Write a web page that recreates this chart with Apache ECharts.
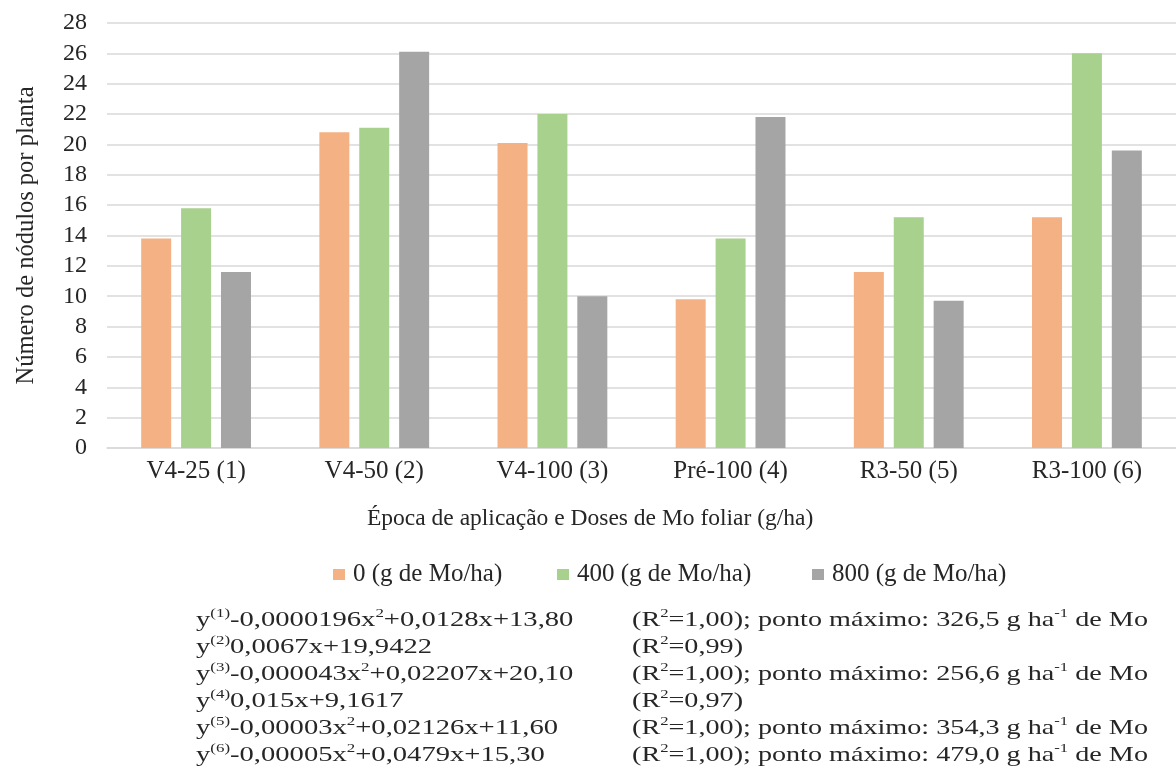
<!DOCTYPE html>
<html><head><meta charset="utf-8">
<script src="https://cdn.jsdelivr.net/npm/echarts@6/dist/echarts.min.js"></script>
<style>html,body{margin:0;padding:0;background:#fff}#c{width:1176px;height:774px}</style>
</head><body><div id="c"></div>
<script>
const categories = ['V4-25 (1)', 'V4-50 (2)', 'V4-100 (3)', 'Pré-100 (4)', 'R3-50 (5)', 'R3-100 (6)'];
const seriesNames = ['0 (g de Mo/ha)', '400 (g de Mo/ha)', '800 (g de Mo/ha)'];
const dose0 = [13.8, 20.8, 20.1, 9.8, 11.6, 15.2];
const dose400 = [15.8, 21.1, 22.0, 13.8, 15.2, 26.0];
const dose800 = [11.6, 26.1, 10.0, 21.8, 9.7, 19.6];
const yTicks = [0, 2, 4, 6, 8, 10, 12, 14, 16, 18, 20, 22, 24, 26, 28];
const yTitle = 'Número de nódulos por planta';
const xTitle = 'Época de aplicação e Doses de Mo foliar (g/ha)';
const eqLeft = [
  '{m|y}{s|(1)}{m|-0,0000196x}{s|2}{m|+0,0128x+13,80}',
  '{m|y}{s|(2)}{m|0,0067x+19,9422}',
  '{m|y}{s|(3)}{m|-0,000043x}{s|2}{m|+0,02207x+20,10}',
  '{m|y}{s|(4)}{m|0,015x+9,1617}',
  '{m|y}{s|(5)}{m|-0,00003x}{s|2}{m|+0,02126x+11,60}',
  '{m|y}{s|(6)}{m|-0,00005x}{s|2}{m|+0,0479x+15,30}'
];
const eqRight = [
  '{m|(R}{s|2}{m|=1,00); ponto máximo: 326,5 g ha}{s|-1}{m| de Mo}',
  '{m|(R}{s|2}{m|=0,99)}',
  '{m|(R}{s|2}{m|=1,00); ponto máximo: 256,6 g ha}{s|-1}{m| de Mo}',
  '{m|(R}{s|2}{m|=0,97)}',
  '{m|(R}{s|2}{m|=1,00); ponto máximo: 354,3 g ha}{s|-1}{m| de Mo}',
  '{m|(R}{s|2}{m|=1,00); ponto máximo: 479,0 g ha}{s|-1}{m| de Mo}'
];
const colors = ['#F4B183', '#A9D18E', '#A5A5A5'];
const FONT = 'Liberation Serif';
const TXT = '#262626';

const eqRich = {
  m: { fontFamily: FONT, fontSize: 22, lineHeight: 27, fill: TXT, color: TXT },
  s: { fontFamily: FONT, fontSize: 13, lineHeight: 17, verticalAlign: 'top', fill: TXT, color: TXT }
};

const chart = echarts.init(document.getElementById('c'), null, { renderer: 'canvas' });
const values = [dose0, dose400, dose800];
const legendLefts = [333, 557, 812];

chart.setOption({
  animation: false,
  backgroundColor: '#fff',
  textStyle: { fontFamily: FONT },
  grid: { left: 107, right: 0, top: 23, bottom: 326 },
  legend: seriesNames.map((n, i) => ({
    data: [n], left: legendLefts[i], top: 562, padding: 0, itemWidth: 12, itemHeight: 11, itemGap: 0,
    icon: 'rect',
    textStyle: { fontFamily: FONT, fontSize: 25, color: TXT, padding: [0, 0, 0, 3] }
  })),
  xAxis: {
    type: 'category', data: categories,
    axisLine: { lineStyle: { color: '#D9D9D9', width: 1.5 } },
    axisTick: { show: false },
    axisLabel: { fontFamily: FONT, fontSize: 25, color: TXT, margin: 11 }
  },
  yAxis: {
    type: 'value', min: 0, max: 28, interval: 2,
    name: yTitle, nameLocation: 'middle', nameGap: 68, nameRotate: 90,
    nameTextStyle: { fontFamily: FONT, fontSize: 24.5, color: TXT },
    axisLine: { show: false }, axisTick: { show: false },
    axisLabel: { fontFamily: FONT, fontSize: 24, color: TXT, margin: 20,
      formatter: v => yTicks.includes(v) ? String(v) : '' },
    splitLine: { lineStyle: { color: '#D9D9D9', width: 1.5 } }
  },
  series: values.map((d, i) => ({
    name: seriesNames[i], type: 'bar', data: d, barWidth: 30, barGap: '33%',
    itemStyle: { color: colors[i] }
  })),
  graphic: [
    { type: 'text', x: 367, y: 507,
      style: { text: xTitle, fontFamily: FONT, fontSize: 23.5, fill: TXT } },
    { type: 'text', x: 196, y: 607, scaleX: 1.3,
      style: { text: eqLeft.join('\n'), rich: eqRich, fill: TXT } },
    { type: 'text', x: 632, y: 607, scaleX: 1.28,
      style: { text: eqRight.join('\n'), rich: eqRich, fill: TXT } }
  ]
});
</script></body></html>
